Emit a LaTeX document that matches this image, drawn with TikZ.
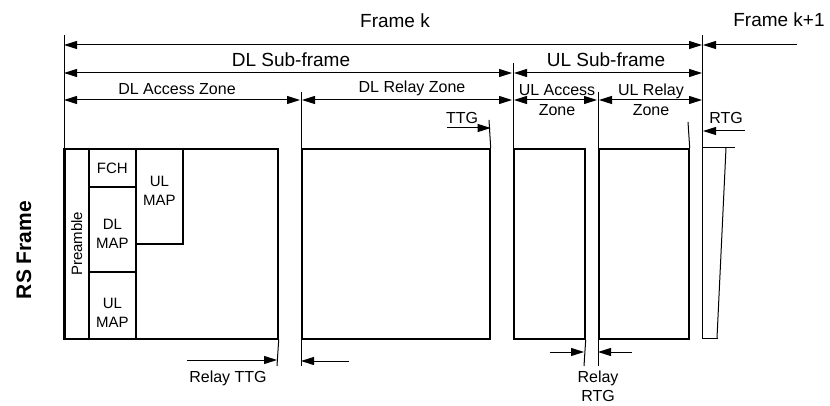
\documentclass[tikz,border=0pt]{standalone}
\usepackage{fontspec}
\setmainfont{Liberation Sans}
\usetikzlibrary{arrows.meta}
\begin{document}
\begin{tikzpicture}[x=1pt,y=-1pt,
  >={Triangle[length=13pt,width=8pt]},
  dim/.style={line width=1pt,<->},
  onearrow/.style={line width=1pt,->},
  guide/.style={line width=1pt},
  zone/.style={draw,line width=1.7pt,anchor=north west,inner sep=0pt},
  lbl/.style={inner sep=0pt,align=center,font=\fontsize{16}{18}\selectfont},
  big/.style={inner sep=0pt,font=\fontsize{19}{21}\selectfont},
  small/.style={inner sep=0pt,align=center,font=\fontsize{15}{19}\selectfont}]
\useasboundingbox (0,0) rectangle (830,406);
% boxes
\node[zone,minimum width=213pt,minimum height=190pt] (acc) at (64,148) {};
\node[zone,minimum width=24pt,minimum height=190pt] (pre) at (64,148) {};
\node[zone,minimum width=47pt,minimum height=38pt] (fch) at (88,148) {};
\node[zone,minimum width=47pt,minimum height=85pt] (dlmap) at (88,186) {};
\node[zone,minimum width=47pt,minimum height=67pt] (ulmapa) at (88,271) {};
\node[zone,minimum width=47pt,minimum height=95pt] (ulmapb) at (135,148) {};
\node[zone,minimum width=188pt,minimum height=190pt] (relay) at (301,148) {};
\node[zone,minimum width=71pt,minimum height=190pt] (ulacc) at (513,148) {};
\node[zone,minimum width=90pt,minimum height=190pt] (ulrel) at (598,148) {};
\draw[line width=3.2pt] ([xshift=0.8pt]pre.north west) -- ([xshift=0.8pt]pre.south west);
% texts in boxes
\node[small,rotate=90] at (pre.center) {Preamble};
\node[small] at (fch.center) {FCH};
\node[small] at ([yshift=-4pt]dlmap.center) {DL\\MAP};
\node[small] at ([yshift=-7pt]ulmapa.center) {UL\\MAP};
\node[small] at ([yshift=6pt]ulmapb.center) {UL\\MAP};
% RTG gap shape
\coordinate (g1) at (702,35);
\coordinate (g2) at (702,338);
\coordinate (g3) at (735,148);
\coordinate (g4) at (718,338);
\coordinate (g5) at (726,148);
\coordinate (g6) at (717,338);
\draw[guide] (g1) -- (g2) -- (g4);
\draw[guide] (702,148) -- (g3);
\draw[guide] (g5) -- (g6);
% guide lines
\coordinate (v0a) at (64,35);
\draw[guide] (v0a) -- (acc.north west);
\coordinate (v1a) at (301,92);
\coordinate (v1b) at (301,366);
\draw[guide] (v1a) -- (v1b);
\coordinate (v2a) at (513,63);
\draw[guide] (v2a) -- (ulacc.north west);
\coordinate (v3a) at (598,92);
\coordinate (v3b) at (598,366);
\draw[guide] (v3a) -- (v3b);
\coordinate (v4b) at (584,366);
\draw[guide] (ulacc.south east) -- (v4b);
\coordinate (v5a) at (489,120);
\draw[guide] (v5a) -- (relay.north east);
\coordinate (v6a) at (688,122);
\draw[guide] (v6a) -- (ulrel.north east);
\coordinate (v7b) at (277,366);
\draw[guide] (acc.south east) -- (v7b);
% dimension arrows
\coordinate (fk1) at (64,45); \coordinate (fk2) at (702,45);
\draw[dim] (fk1) -- (fk2);
\node[big] at (395,21) {Frame k};
\coordinate (fn1) at (797,45); \coordinate (fn2) at (703,45);
\draw[onearrow] (fn1) -- (fn2);
\node[big] at (779,20) {Frame k+1};
\coordinate (ds1) at (64,73); \coordinate (ds2) at (512,73);
\draw[dim] (ds1) -- (ds2);
\node[big] at (291,60) {DL Sub-frame};
\coordinate (us1) at (514,73); \coordinate (us2) at (702,73);
\draw[dim] (us1) -- (us2);
\node[big] at (606,60) {UL Sub-frame};
\coordinate (da1) at (64,100); \coordinate (da2) at (300,100);
\draw[dim] (da1) -- (da2);
\node[lbl] at (177,89) {DL Access Zone};
\coordinate (dr1) at (302,100); \coordinate (dr2) at (512,100);
\draw[dim] (dr1) -- (dr2);
\node[lbl] at (412,88) {DL Relay Zone};
\coordinate (ua1) at (514,100); \coordinate (ua2) at (597,100);
\draw[dim] (ua1) -- (ua2);
\node[lbl] at (557,100) {UL Access\\[2pt]Zone};
\coordinate (ur1) at (599,100); \coordinate (ur2) at (702,100);
\draw[dim] (ur1) -- (ur2);
\node[lbl] at (651,100) {UL Relay\\[2pt]Zone};
% TTG / RTG
\coordinate (t1) at (447,128);
\draw[onearrow] (t1) -- (relay.north east |- t1);
\node[lbl] at (462,118) {TTG};
\coordinate (r1) at (745,131); \coordinate (r2) at (703,131);
\draw[onearrow] (r1) -- (r2);
\node[lbl] at (726,118) {RTG};
% bottom arrows
\coordinate (rt1) at (187,360); \coordinate (rt2) at (277,360);
\draw[onearrow] (rt1) -- (rt2);
\node[lbl] at (228,378) {Relay TTG};
\coordinate (la1) at (349,361); \coordinate (la2) at (301,361);
\draw[onearrow] (la1) -- (la2);
\coordinate (rr1) at (550,352); \coordinate (rr2) at (584,352);
\draw[onearrow] (rr1) -- (rr2);
\coordinate (rr3) at (632,352); \coordinate (rr4) at (598,352);
\draw[onearrow] (rr3) -- (rr4);
\node[lbl] at (598,386) {Relay\\[1pt]RTG};
% side label
\node[inner sep=0pt,rotate=90,font=\fontsize{21}{24}\selectfont\bfseries] at (24,250) {RS Frame};
\end{tikzpicture}
\end{document}
